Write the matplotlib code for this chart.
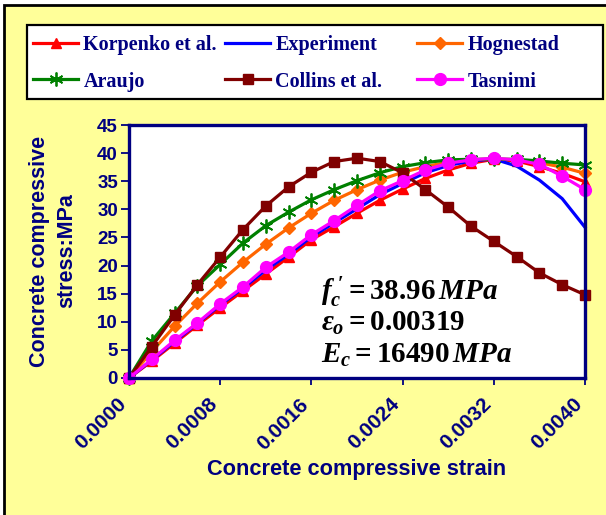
import matplotlib
matplotlib.use("Agg")
import matplotlib.pyplot as plt
import matplotlib.transforms as mtransforms
from matplotlib.patches import Rectangle

# Data (strain every 0.0002, stress in MPa)
strain = [0.0000, 0.0002, 0.0004, 0.0006, 0.0008, 0.0010, 0.0012, 0.0014, 0.0016, 0.0018, 0.0020,
          0.0022, 0.0024, 0.0026, 0.0028, 0.0030, 0.0032, 0.0034, 0.0036, 0.0038, 0.0040]

korpenko = [0.0, 3.0, 6.2, 9.4, 12.5, 15.5, 18.5, 21.5, 24.6, 26.9, 29.3,
            31.6, 33.6, 35.5, 37.0, 38.2, 38.9, 38.6, 37.6, 36.4, 34.9]
experiment = [0.0, 3.2, 6.5, 9.7, 13.0, 16.0, 19.2, 22.0, 25.1, 27.6, 30.1,
              32.6, 34.6, 36.5, 37.8, 38.6, 38.96, 37.7, 35.2, 31.9, 26.8]
hognestad = [0.0, 4.7, 9.2, 13.3, 17.1, 20.6, 23.8, 26.7, 29.3, 31.6, 33.5,
             35.2, 36.6, 37.6, 38.4, 38.8, 38.96, 38.8, 38.3, 37.5, 36.4]
araujo = [0.0, 6.6, 11.5, 16.4, 20.2, 24.0, 27.1, 29.5, 31.7, 33.5, 35.1,
          36.5, 37.6, 38.3, 38.8, 38.9, 38.9, 38.9, 38.6, 38.2, 37.9]
collins = [0.0, 5.6, 11.2, 16.6, 21.5, 26.4, 30.6, 34.0, 36.6, 38.5, 39.1,
           38.5, 36.5, 33.5, 30.4, 27.0, 24.3, 21.6, 18.7, 16.6, 14.8]
tasnimi = [0.0, 3.3, 6.7, 9.8, 13.2, 16.2, 19.7, 22.4, 25.5, 28.0, 30.7,
           33.3, 35.1, 37.0, 38.2, 38.8, 39.1, 38.8, 38.0, 35.9, 33.5]

xticks = [0.0000, 0.0008, 0.0016, 0.0024, 0.0032, 0.0040]
yticks = [0, 5, 10, 15, 20, 25, 30, 35, 40, 45]

navy = "#000080"
W, H = 606, 515

plt.rcParams['mathtext.fontset'] = 'custom'
plt.rcParams['mathtext.it'] = 'Liberation Serif:italic:bold'
plt.rcParams['mathtext.rm'] = 'Liberation Serif:bold'
plt.rcParams['mathtext.bf'] = 'Liberation Serif:bold'

fig = plt.figure(figsize=(W / 100, H / 100), dpi=100, facecolor="white")

# yellow chart area with black border
fig.patches.append(Rectangle((4 / W, -0.05), 1.1, 1.05 - 5 / H, transform=fig.transFigure,
                             facecolor="#FFFF99", edgecolor="black", linewidth=2, zorder=-10))
# legend frame
fig.patches.append(Rectangle((27 / W, 1 - 99 / H), 576 / W, 74 / H, transform=fig.transFigure,
                             facecolor="white", edgecolor="black", linewidth=1.6, zorder=-5))

ax = fig.add_axes([129 / W, 1 - 378 / H, 456 / W, 253 / H])
ax.set_facecolor("white")

lw = 2.3
l1, = ax.plot(strain, korpenko, color="#FF0000", lw=lw, marker="^", ms=7, label="Korpenko et al.")
l2, = ax.plot(strain, experiment, color="#0000FF", lw=lw, label="Experiment")
l3, = ax.plot(strain, hognestad, color="#FF6600", lw=lw, marker="D", ms=6, label="Hognestad")
l4, = ax.plot(strain, araujo, color="#008000", lw=lw, marker=(6, 2, 0), ms=10, mew=1.3, label="Araujo")
l5, = ax.plot(strain, collins, color="#800000", lw=lw, marker="s", ms=7.5, label="Collins et al.")
l6, = ax.plot(strain, tasnimi, color="#FF00FF", lw=lw, marker="o", ms=8.5, label="Tasnimi")
for l in (l1, l2, l3, l4, l5, l6):
    l.set_clip_on(False)

ax.set_xlim(0, 0.0040)
ax.set_ylim(0, 45)
ax.set_xticks(xticks)
ax.set_xticklabels([f"{v:.4f}" for v in xticks], rotation=45, ha="right", va="top",
                   rotation_mode="anchor")
ax.set_yticks(yticks)
ax.tick_params(axis="x", direction="out", length=5, width=1.3, color=navy, pad=7)
ax.tick_params(axis="y", direction="out", length=6, width=1.3, color=navy, pad=2)
for lab in ax.get_yticklabels():
    lab.set_fontsize(13.5)
for lab in ax.get_xticklabels():
    lab.set_fontsize(15)
for lab in ax.get_xticklabels() + ax.get_yticklabels():
    lab.set_fontfamily("Liberation Sans")
    lab.set_fontweight("bold")
    lab.set_color(navy)
# shift rotated labels a little left of their ticks
shift = mtransforms.ScaledTranslation(-9 / 72, 0, fig.dpi_scale_trans)
for lab in ax.get_xticklabels():
    lab.set_transform(lab.get_transform() + shift)
for sp in ax.spines.values():
    sp.set_color(navy)
    sp.set_linewidth(2.4)

fig.text(357 / W, 1 - 470 / H, "Concrete compressive strain", ha="center", va="center",
         fontsize=15.7, fontweight="bold", color=navy, family="Liberation Sans")
fig.text(53 / W, 1 - 251 / H, "Concrete compressive\nstress:MPa", ha="center", va="center",
         rotation=90, fontsize=15.5, fontweight="bold", color=navy, family="Liberation Sans",
         linespacing=1.35, multialignment="center")

# material parameters
ann = dict(fontsize=21, va="center", ha="left", color="black")
fig.text(321 / W, 1 - 292 / H, r"$f_c^{\;\prime} = 38.96\,MPa$", **ann)
fig.text(321 / W, 1 - 323 / H, r"$\varepsilon_o = 0.00319$", **ann)
fig.text(321 / W, 1 - 355 / H, r"$E_c = 16490\,MPa$", **ann)

# legend: three columns of two entries each
columns = [(33, [l1, l4]), (225, [l2, l5]), (417, [l3, l6])]
for x0, hs in columns:
    leg = fig.legend(handles=hs, labels=[h.get_label() for h in hs], loc="upper left",
                     bbox_to_anchor=(x0 / W, 1 - 35 / H), frameon=False,
                     prop={"family": "Liberation Serif", "weight": "bold", "size": 14.5},
                     handlelength=2.25, handletextpad=0.25, labelspacing=0.82,
                     borderpad=0, borderaxespad=0)
    for t in leg.get_texts():
        t.set_color(navy)

fig.savefig("out.png", dpi=100, facecolor=fig.get_facecolor())
